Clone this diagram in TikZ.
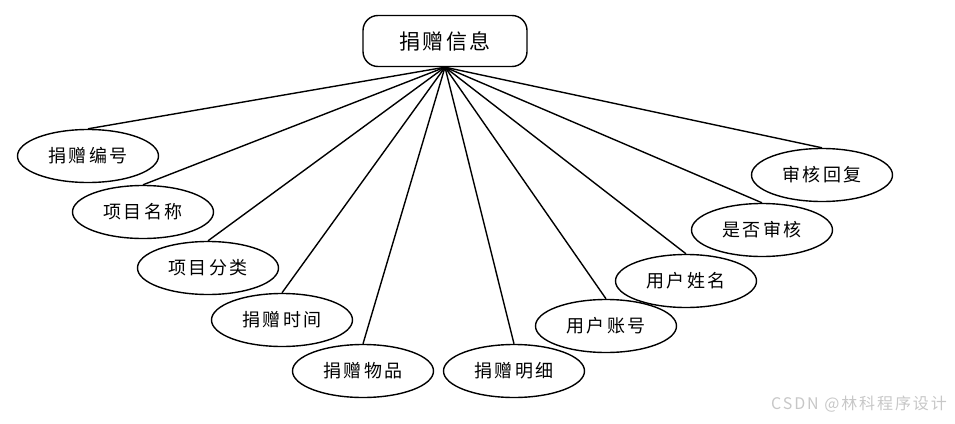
\documentclass[tikz,border=0pt]{standalone}
\usepackage{fontspec}
\newfontfamily\cjk[LetterSpace=12]{Noto Sans CJK SC}
\usepackage{tikz}
\usetikzlibrary{shapes.geometric}
\usetikzlibrary{positioning}

\begin{document}
\begin{tikzpicture}[x=1pt,y=-1pt,
	attr/.style={draw,ellipse,line width=1.4pt,minimum width=141pt,minimum height=53pt,inner sep=0pt,font=\cjk\fontsize{18}{18}\selectfont},
	ent/.style={draw,rounded corners=15pt,line width=1.4pt,minimum width=164pt,minimum height=51pt,font=\cjk\fontsize{21}{21}\selectfont}]
	\useasboundingbox (0,0) rectangle (955,423);
	\node[ent] (0) at (445,41) {捐赠信息};
	\node[attr] (1) at (88,156) {捐赠编号};
	\node[attr] (2) at (143,212) {项目名称};
	\node[attr] (3) at (208,268) {项目分类};
	\node[attr] (4) at (282,320) {捐赠时间};
	\node[attr] (5) at (363,371) {捐赠物品};
	\node[attr] (6) at (514,371) {捐赠明细};
	\node[attr] (7) at (606,326) {用户账号};
	\node[attr] (8) at (686,281) {用户姓名};
	\node[attr] (9) at (762,230) {是否审核};
	\node[attr] (10) at (822,175) {审核回复};
	\draw [line width=1.4pt] (0.south) to (1.north);
	\draw [line width=1.4pt] (0.south) to (2.north);
	\draw [line width=1.4pt] (0.south) to (3.north);
	\draw [line width=1.4pt] (0.south) to (4.north);
	\draw [line width=1.4pt] (0.south) to (5.north);
	\draw [line width=1.4pt] (0.south) to (6.north);
	\draw [line width=1.4pt] (0.south) to (7.north);
	\draw [line width=1.4pt] (0.south) to (8.north);
	\draw [line width=1.4pt] (0.south) to (9.north);
	\draw [line width=1.4pt] (0.south) to (10.north);
	\node[text=black!22,font=\cjk\fontsize{16}{16}\selectfont] (11) at (859,404) {CSDN @林科程序设计};
\end{tikzpicture}
\end{document}
